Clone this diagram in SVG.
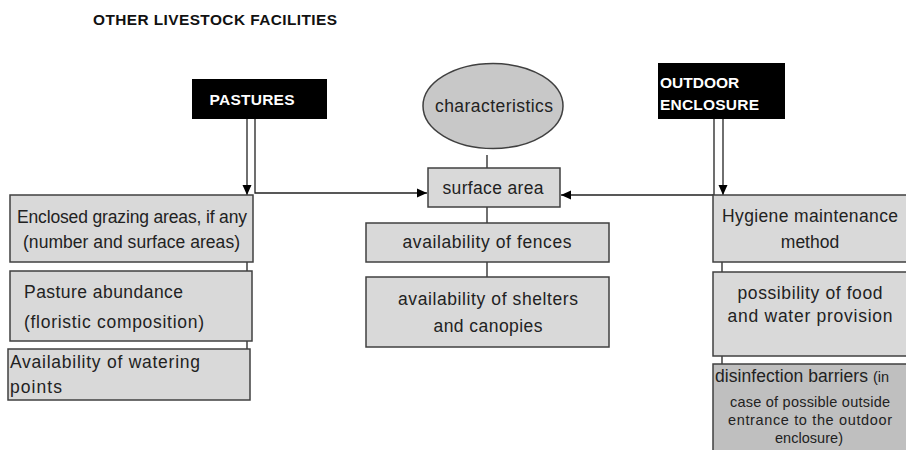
<svg xmlns="http://www.w3.org/2000/svg" width="906" height="450" viewBox="0 0 906 450">
<defs>
<marker id="arr" markerUnits="userSpaceOnUse" markerWidth="10" markerHeight="10" refX="10" refY="5" orient="auto">
<path d="M0,0.5 L10,5 L0,9.5 z" fill="#000"/>
</marker>
<style>
.box{fill:#d9d9d9;stroke:#404040;stroke-width:1.5}
.dark{fill:#bfbfbf;stroke:#404040;stroke-width:1.5}
.hdr{fill:#000}
.ht{font-family:"Liberation Sans",Arial,sans-serif;font-weight:bold;font-size:15.5px;fill:#fff}
.t{font-family:"Liberation Sans",Arial,sans-serif;font-size:17.5px;fill:#222}
.s{font-family:"Liberation Sans",Arial,sans-serif;font-size:14.5px;fill:#222}
.c{text-anchor:middle}
.ln{fill:none;stroke:#222;stroke-width:1.3}
</style>
</defs>
<rect width="906" height="450" fill="#fff"/>
<text x="93" y="25" font-family="Liberation Sans,Arial,sans-serif" font-weight="bold" font-size="15.4" fill="#111" textLength="244">OTHER LIVESTOCK FACILITIES</text>

<g id="connectors">
<path class="ln" d="M247,119 V195" marker-end="url(#arr)"/>
<path class="ln" d="M255,119 V193 H427" marker-end="url(#arr)"/>
<path class="ln" d="M714,119 V195 H561" marker-end="url(#arr)"/>
<path class="ln" d="M723,119 V195" marker-end="url(#arr)"/>
<path class="ln" d="M487,155 V168"/>
<path class="ln" d="M487,207 V223"/>
<path class="ln" d="M487,262 V277"/>
<path class="ln" d="M247,262 V271"/>
<path class="ln" d="M247,341 V349"/>
<path class="ln" d="M722,262 V272"/>
<path class="ln" d="M722,356 V364"/>
</g>

<g id="pastures">
<rect class="hdr" x="192" y="79" width="135" height="40"/>
<text class="ht c" x="252" y="105" textLength="85">PASTURES</text>
</g>

<g id="outdoor-enclosure">
<rect class="hdr" x="658" y="63" width="127" height="56"/>
<text class="ht" x="660" y="88">OUTDOOR</text>
<text class="ht" x="660" y="110" textLength="99">ENCLOSURE</text>
</g>

<g id="characteristics">
<ellipse cx="493" cy="106" rx="70" ry="42.5" fill="#c8c8c8" stroke="#404040" stroke-width="1.5"/>
<text class="t c" x="494" y="112" textLength="118">characteristics</text>
</g>

<g id="surface-area">
<rect class="box" x="428" y="168" width="132" height="39"/>
<text class="t c" x="493" y="194" textLength="101">surface area</text>
</g>

<g id="fences">
<rect class="box" x="366" y="223" width="243" height="39"/>
<text class="t c" x="487" y="248" textLength="169">availability of fences</text>
</g>

<g id="shelters">
<rect class="box" x="366" y="277" width="243" height="70"/>
<text class="t c" x="488" y="305" textLength="180">availability of shelters</text>
<text class="t c" x="488" y="332" textLength="109">and canopies</text>
</g>

<g id="grazing-areas">
<rect class="box" x="10" y="195" width="243" height="67"/>
<text class="t" x="17" y="223" textLength="230">Enclosed grazing areas, if any</text>
<text class="t" x="23" y="248" textLength="217">(number and surface areas)</text>
</g>

<g id="pasture-abundance">
<rect class="box" x="10" y="271" width="242" height="70"/>
<text class="t" x="24" y="298" textLength="159">Pasture abundance</text>
<text class="t" x="24" y="328" textLength="180">(floristic composition)</text>
</g>

<g id="watering-points">
<rect class="box" x="8" y="349" width="242" height="51"/>
<text class="t" x="10" y="368" textLength="190">Availability of watering</text>
<text class="t" x="10" y="393" textLength="52">points</text>
</g>

<g id="hygiene">
<rect class="box" x="713" y="195" width="200" height="67"/>
<text class="t c" x="810" y="222" textLength="176">Hygiene maintenance</text>
<text class="t c" x="810" y="248">method</text>
</g>

<g id="food-water">
<rect class="box" x="713" y="272" width="200" height="84"/>
<text class="t c" x="810" y="299" textLength="145">possibility of food</text>
<text class="t c" x="810" y="322" textLength="165">and water provision</text>
</g>

<g id="disinfection">
<rect class="dark" x="713" y="364" width="200" height="90"/>
<text class="t" x="715" y="382" textLength="153">disinfection barriers</text>
<text class="s" x="873" y="382" font-size="12">(in</text>
<text class="s c" x="810" y="407" textLength="160">case of possible outside</text>
<text class="s c" x="810" y="425" textLength="164">entrance to the outdoor</text>
<text class="s c" x="809" y="443" textLength="68">enclosure)</text>
</g>
</svg>
